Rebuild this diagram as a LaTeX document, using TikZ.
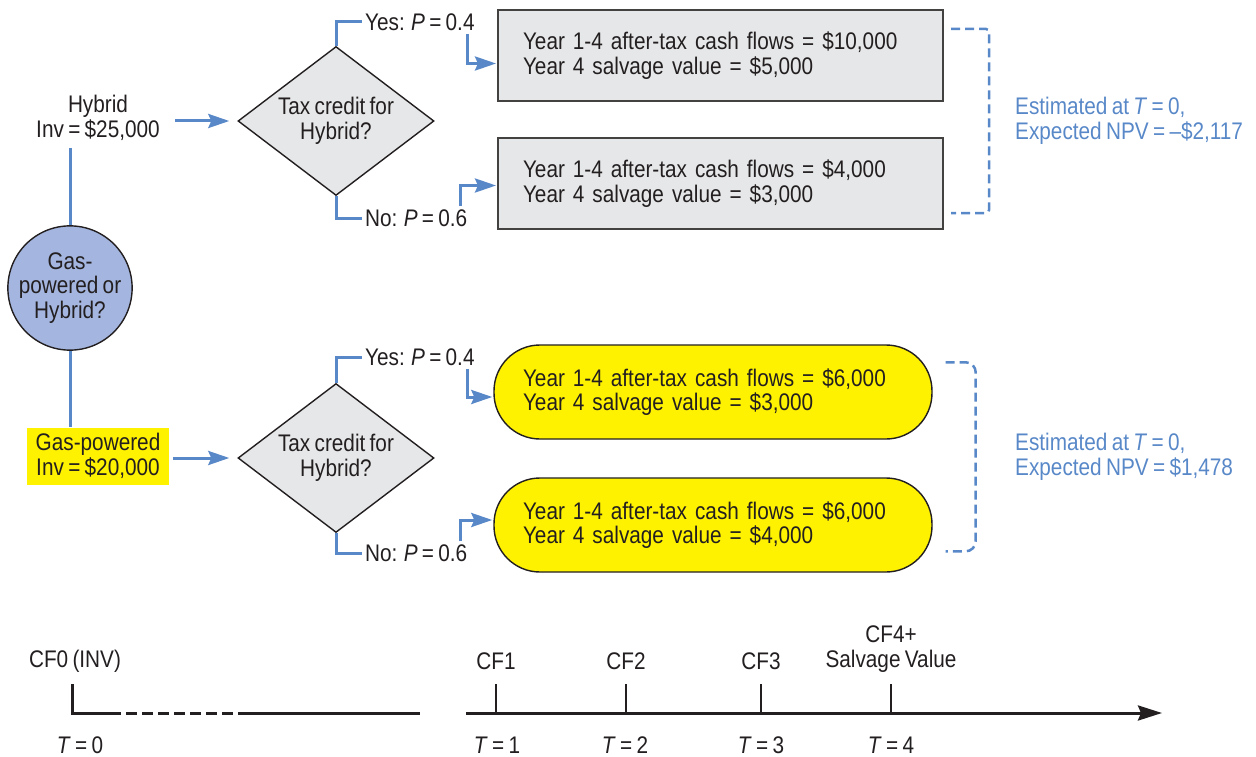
\documentclass[tikz,border=0pt]{standalone}
\usepackage{fontspec}
\setmainfont{Liberation Sans}[FakeStretch=0.865, WordSpace=0.75]
\usetikzlibrary{shapes.geometric,arrows.meta,positioning}
\definecolor{treeblue}{RGB}{88,136,200}
\definecolor{boxgray}{RGB}{230,231,232}
\definecolor{hiyellow}{RGB}{255,242,0}
\definecolor{choiceblue}{RGB}{164,182,223}
\definecolor{ink}{RGB}{35,31,32}
\begin{document}
\begin{tikzpicture}[x=1pt, y=-1pt, font=\fontsize{24}{24.5}\selectfont, text=ink,
	link/.style = { draw=treeblue, line width=3pt },
	arrow/.style = { link, -{Stealth[length=21pt,width=14pt,inset=3pt]} },
	bracket/.style = { draw=treeblue, line width=2.5pt, dash pattern=on 9pt off 5pt },
	choice/.style = { circle, draw=ink, line width=1.4pt, fill=choiceblue, minimum size=124pt, inner sep=0, align=center },
	taxq/.style = { diamond, aspect=1.31, draw=ink, line width=1.4pt, fill=boxgray, minimum width=196pt, minimum height=149pt, inner sep=0, align=center },
	flowbox/.style = { draw=ink!85, line width=2pt, fill=boxgray, minimum width=445pt, minimum height=91pt, inner xsep=25pt, text width=395pt, align=left },
	flowpill/.style = { draw=ink, line width=1.4pt, fill=hiyellow, rounded corners=46pt, minimum width=438pt, minimum height=94pt, inner xsep=29pt, text width=380pt, align=left },
	note/.style = { anchor=west, inner sep=0, text=treeblue, align=left },
	prob/.style = { anchor=west, inner sep=0 },
	axis/.style = { draw=ink, line width=3pt },
	tick/.style = { draw=ink, line width=2.2pt }
	]
	\useasboundingbox (0,0) rectangle (1256,757);
	% first choice
	\node [choice] (choice) at (70,288) { Gas-\\powered or\\Hybrid? };
	\node [align=center] (hyb) at (98,118) { Hybrid\\Inv = \$25,000 };
	\node [fill=hiyellow, minimum width=142pt, minimum height=57pt, inner sep=0, align=center] (gas) at (98,456) { Gas-powered\\Inv = \$20,000 };
	\draw [link] (choice.north) -- ([yshift=-4pt]choice.north |- hyb.south);
	\draw [link] (choice.south) -- (choice.south |- gas.north);
	% hybrid branch
	\node [taxq] (tax1) at (336,121) { Tax credit for\\Hybrid? };
	\node [prob] (yes1) at (365,22) { Yes: \textit{P} = 0.4 };
	\node [prob] (no1) at (365,218) { No: \textit{P} = 0.6 };
	\node [flowbox] (hb1) at (720.5,55.5) { Year 1-4 after-tax cash flows = \$10,000\\Year 4 salvage value = \$5,000 };
	\node [flowbox] (hb2) at (720.5,183.5) { Year 1-4 after-tax cash flows = \$4,000\\Year 4 salvage value = \$3,000 };
	\draw [arrow, shorten <=12pt, shorten >=8pt] (hyb.east |- tax1.west) -- (tax1.west);
	\draw [link, shorten >=3pt] (tax1.north) |- (yes1.west);
	\draw [link, shorten >=3pt] (tax1.south) |- (no1.west);
	\draw [arrow, shorten <=3pt, shorten >=1pt] ([xshift=-7pt]yes1.south east) |- ([yshift=-8pt]hb1.west);
	\draw [arrow, shorten <=3pt, shorten >=1pt] ([xshift=-7pt]no1.north east) |- ([yshift=-2pt]hb2.west);
	\draw [bracket, rounded corners=3pt] ([xshift=7pt,yshift=-20pt]hb1.north east) -- ++(38,0) -- ++(0,184) -- ++(-38,0);
	\node [note] (hnote) at (1015,121) { Estimated at \textit{T} = 0,\\Expected NPV = –\$2,117 };
	% gas-powered branch
	\node [taxq] (tax2) at (336,458) { Tax credit for\\Hybrid? };
	\node [prob] (yes2) at (365,357) { Yes: \textit{P} = 0.4 };
	\node [prob] (no2) at (365,553) { No: \textit{P} = 0.6 };
	\node [flowpill] (gb1) at (713,392) { Year 1-4 after-tax cash flows = \$6,000\\Year 4 salvage value = \$3,000 };
	\node [flowpill] (gb2) at (713,525) { Year 1-4 after-tax cash flows = \$6,000\\Year 4 salvage value = \$4,000 };
	\draw [arrow, shorten <=4pt, shorten >=8pt] (gas.east |- tax2.west) -- (tax2.west);
	\draw [link, shorten >=3pt] (tax2.north) |- (yes2.west);
	\draw [link, shorten >=3pt] (tax2.south) |- (no2.west);
	\draw [arrow, shorten <=3pt, shorten >=1pt] ([xshift=-7pt]yes2.south east) |- ([yshift=-5pt]gb1.west);
	\draw [arrow, shorten <=3pt, shorten >=1pt] ([xshift=-7pt]no2.north east) |- ([yshift=5pt]gb2.west);
	\draw [bracket, rounded corners=10pt] ([xshift=13pt,yshift=-18pt]gb1.north east) -- ++(30,0) -- ++(0,189) -- ++(-30,0);
	\node [note] (gnote) at (1015,457) { Estimated at \textit{T} = 0,\\Expected NPV = \$1,478 };
	% time line
	\coordinate (t0) at (72,713);
	\coordinate (d0) at (110,713);
	\coordinate (d1) at (245,713);
	\coordinate (e0) at (420,713);
	\coordinate (s1) at (466,713);
	\coordinate (s2) at (1162,713);
	\draw [axis] (72,684) -- (t0) -- (d0);
	\draw [axis, dash pattern=on 11pt off 5pt] (d0) -- (d1);
	\draw [axis] (d1) -- (e0);
	\draw [axis, -{Stealth[length=24pt,width=15pt,inset=3pt]}] (s1) -- (s2);
	\draw [tick] (496,684) -- (496,713);
	\draw [tick] (626,684) -- (626,713);
	\draw [tick] (761,684) -- (761,713);
	\draw [tick] (891,684) -- (891,713);
	\node (cf0) at (75,661) { CF0 (INV) };
	\node (cf1) at (496,661) { CF1 };
	\node (cf2) at (626,661) { CF2 };
	\node (cf3) at (761,661) { CF3 };
	\node [align=center] (cf4) at (891,649) { CF4+\\Salvage Value };
	\node (tt0) at (80,745) { \textit{T} = 0 };
	\node (tt1) at (497,745) { \textit{T} = 1 };
	\node (tt2) at (625,745) { \textit{T} = 2 };
	\node (tt3) at (761,745) { \textit{T} = 3 };
	\node (tt4) at (891,745) { \textit{T} = 4 };
\end{tikzpicture}
\end{document}
